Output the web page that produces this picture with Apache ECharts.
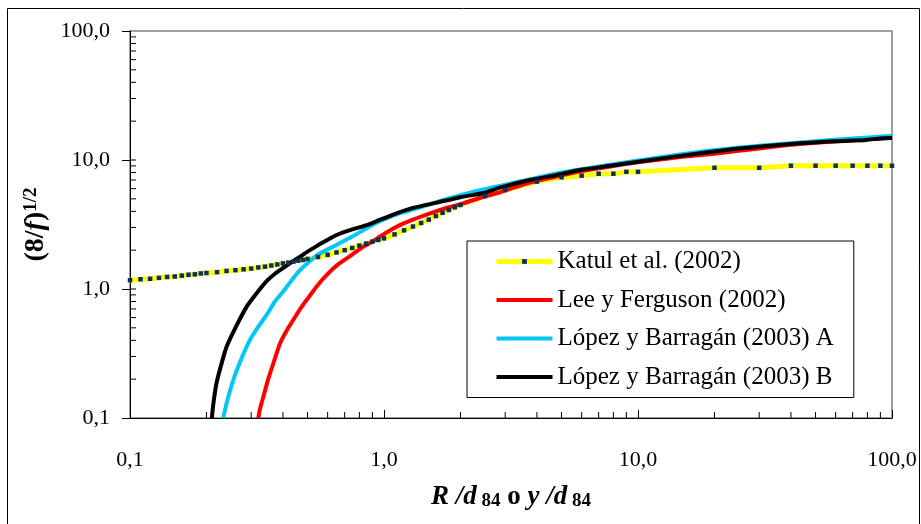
<!DOCTYPE html>
<html>
<head>
<meta charset="utf-8">
<style>
  html, body { margin: 0; padding: 0; background: #fff; }
  #main { width: 921px; height: 524px; }
</style>
<script src="https://cdn.jsdelivr.net/npm/echarts@6/dist/echarts.min.js"></script>
</head>
<body>
<div id="main"></div>
<script>
// datos (x = R/d84 o y/d84, y = (8/f)^1/2)
var katulX = [0.10, 0.11, 0.12, 0.13, 0.14, 0.15, 0.16, 0.17, 0.18, 0.19, 0.20, 0.22, 0.24, 0.26, 0.28, 0.30,
  0.32, 0.34, 0.36, 0.38, 0.40, 0.42, 0.44, 0.46, 0.48, 0.50, 0.55, 0.60, 0.65, 0.70, 0.75, 0.80, 0.85, 0.90,
  0.95, 1.0, 1.1, 1.2, 1.3, 1.4, 1.5, 1.6, 1.7, 1.8, 1.9, 2.0, 2.5, 3, 4, 5, 6, 7, 8, 9, 10,
  20, 30, 40, 50, 60, 70, 80, 90, 100]
var katulY = [1.17, 1.19, 1.20, 1.22, 1.24, 1.25, 1.27, 1.29, 1.30, 1.32, 1.33, 1.35, 1.38, 1.40, 1.42, 1.44,
  1.47, 1.49, 1.52, 1.55, 1.58, 1.60, 1.63, 1.66, 1.68, 1.71, 1.77, 1.84, 1.92, 2.00, 2.08, 2.17, 2.25, 2.33,
  2.40, 2.47, 2.65, 2.85, 3.05, 3.25, 3.45, 3.68, 3.90, 4.10, 4.30, 4.48, 5.25, 5.85, 6.8, 7.34, 7.56, 7.83, 7.83, 8.1, 8.1,
  8.7, 8.7, 9.03, 9.03, 9.03, 9.03, 9.03, 9.03, 9.03]

var leeX = [0.320, 0.325, 0.335, 0.35, 0.37, 0.39, 0.42, 0.45, 0.47, 0.50, 0.55, 0.61, 0.66, 0.73, 0.83, 0.91,
  0.96, 1.12, 1.3, 1.52, 1.8, 2.05, 2.4, 2.8, 3.2, 3.76, 4.5, 5, 6, 8, 10, 15, 20, 30, 40, 50, 70, 100]
var leeY = [0.100, 0.118, 0.146, 0.20, 0.28, 0.38, 0.50, 0.62, 0.71, 0.84, 1.08, 1.35, 1.55, 1.78, 2.13, 2.36,
  2.54, 3.04, 3.45, 3.86, 4.30, 4.61, 5.10, 5.55, 6.05, 6.67, 7.25, 7.6, 8.2, 9.0, 9.6, 10.6, 11.2, 12.3, 13.1, 13.6, 14.2, 14.9]

var lopezAX = [0.233, 0.240, 0.255, 0.275, 0.296, 0.32, 0.345, 0.372, 0.40, 0.43, 0.467, 0.50, 0.543, 0.63,
  0.75, 0.85, 0.98, 1.15, 1.35, 1.6, 1.81, 2.2, 2.86, 3.76, 5, 7, 10, 17.5, 30, 50, 75, 100]
var lopezAY = [0.100, 0.13, 0.197, 0.29, 0.40, 0.51, 0.63, 0.80, 0.95, 1.15, 1.40, 1.58, 1.82, 2.13,
  2.55, 2.95, 3.40, 3.85, 4.22, 4.70, 5.05, 5.60, 6.30, 7.10, 8.0, 8.9, 9.9, 11.6, 12.9, 14.0, 14.8, 15.4]

var lopezBX = [0.210, 0.213, 0.219, 0.23, 0.24, 0.26, 0.288, 0.306, 0.325, 0.345, 0.37, 0.40, 0.43, 0.467,
  0.50, 0.543, 0.576, 0.65, 0.75, 0.855, 0.94, 1.12, 1.3, 1.61, 2.0, 2.44, 2.86, 3.76, 5, 5.9, 8, 10,
  17.5, 25, 43, 60, 79, 90, 100]
var lopezBY = [0.100, 0.13, 0.186, 0.27, 0.357, 0.50, 0.73, 0.86, 1.00, 1.15, 1.30, 1.45, 1.60, 1.78,
  1.95, 2.15, 2.30, 2.62, 2.90, 3.13, 3.37, 3.86, 4.25, 4.67, 5.15, 5.52, 6.10, 7.0, 7.8, 8.37, 9.1, 9.7,
  11.3, 12.3, 13.5, 14.0, 14.3, 14.7, 14.8]

var seriesNames = ['Katul et al. (2002)', 'Lee y Ferguson (2002)', 'López y Barragán (2003) A', 'López y Barragán (2003) B']

// marcas secundarias de los ejes logaritmicos
var minorTicks = [0.2, 0.3, 0.4, 0.5, 0.6, 0.7, 0.8, 0.9, 2, 3, 4, 5, 6, 7, 8, 9, 20, 30, 40, 50, 60, 70, 80, 90]
var majorTicksY = [1, 10]

function pares(xs, ys) {
    return xs.map(function (x, i) { return [x, ys[i]] })
}

function fmt(v) {
    return (Math.round(v * 10) / 10).toFixed(1).replace('.', ',')
}

var serif = 'Liberation Serif'

var chart = echarts.init(document.getElementById('main'))

chart.setOption({
    animation: false,
    graphic: [{
        type: 'rect',
        shape: { x: 7.5, y: 8.5, width: 912, height: 540 },
        style: { fill: 'none', stroke: '#000', lineWidth: 1 },
        z: -1
    }],
    grid: {
        left: 130, right: 29, top: 31, bottom: 106,
        show: true,
        borderColor: '#808080',
        borderWidth: 1.5
    },
    legend: {
        data: [
            { name: seriesNames[0], lineStyle: { width: 5 } },
            { name: seriesNames[1], lineStyle: { width: 4 }, itemStyle: { opacity: 0 } },
            { name: seriesNames[2], lineStyle: { width: 4 }, itemStyle: { opacity: 0 } },
            { name: seriesNames[3], lineStyle: { width: 4 }, itemStyle: { opacity: 0 } }
        ],
        orient: 'vertical',
        left: 467,
        top: 241,
        padding: [8, 20, 8, 27],
        itemGap: 13.5,
        itemWidth: 56,
        itemHeight: 6,
        backgroundColor: '#fff',
        borderColor: '#000',
        borderWidth: 1,
        borderRadius: 0,
        textStyle: { fontFamily: serif, fontSize: 25, color: '#000' }
    },
    xAxis: {
        type: 'log',
        logBase: 10,
        min: 0.1,
        max: 100,
        name: '{b|R }{b|/d}{s| 84}{n| o }{b|y }{b|/d}{s| 84}',
        nameLocation: 'middle',
        nameGap: 66,
        nameTextStyle: {
            rich: {
                b: { fontFamily: serif, fontSize: 27, fontWeight: 'bold', fontStyle: 'italic', color: '#000' },
                n: { fontFamily: serif, fontSize: 27, fontWeight: 'bold', color: '#000' },
                s: { fontFamily: serif, fontSize: 19, fontWeight: 'bold', color: '#000', verticalAlign: 'bottom', padding: [8, 0, 0, 0] }
            }
        },
        axisLine: { lineStyle: { color: '#000', width: 1 } },
        axisTick: { inside: true, length: 8, lineStyle: { color: '#000' } },
        axisLabel: { margin: 31, fontFamily: serif, fontSize: 22, color: '#000', formatter: fmt },
        splitLine: { show: false }
    },
    yAxis: [{
        type: 'log',
        logBase: 10,
        min: 0.1,
        max: 100,
        name: '{a|(8/}{f|f}{a|)}{s|1/2}',
        nameLocation: 'middle',
        nameGap: 68,
        nameTextStyle: {
            rich: {
                a: { fontFamily: serif, fontSize: 28, fontWeight: 'bold', color: '#000' },
                f: { fontFamily: serif, fontSize: 28, fontWeight: 'bold', fontStyle: 'italic', color: '#000' },
                s: { fontFamily: serif, fontSize: 19, fontWeight: 'bold', color: '#000', verticalAlign: 'top', padding: [0, 0, 10, 0] }
            }
        },
        axisLine: { lineStyle: { color: '#000', width: 1 } },
        axisTick: { inside: false, length: 8, lineStyle: { color: '#000' } },
        axisLabel: { margin: 20, fontFamily: serif, fontSize: 22, color: '#000', formatter: fmt },
        splitLine: { show: false }
    }],
    series: [{
        name: seriesNames[0],
        type: 'line',
        data: pares(katulX, katulY),
        symbol: 'rect',
        symbolSize: 4.5,
        showAllSymbol: true,
        lineStyle: { color: '#ffff00', width: 5 },
        itemStyle: { color: '#0b2f5e' }
    }, {
        name: seriesNames[1],
        type: 'line',
        data: pares(leeX, leeY),
        symbol: 'none',
        smooth: 0.2,
        lineStyle: { color: '#ff0000', width: 4 },
        itemStyle: { color: '#ff0000' }
    }, {
        name: seriesNames[2],
        type: 'line',
        data: pares(lopezAX, lopezAY),
        symbol: 'none',
        smooth: 0.2,
        lineStyle: { color: '#00c8f8', width: 4 },
        itemStyle: { color: '#00c8f8' }
    }, {
        name: seriesNames[3],
        type: 'line',
        data: pares(lopezBX, lopezBY),
        symbol: 'none',
        smooth: 0.2,
        lineStyle: { color: '#000000', width: 4 },
        itemStyle: { color: '#000000' }
    }, {
        // marcas menores del eje x (hacia adentro)
        type: 'custom',
        silent: true,
        data: minorTicks.map(function (v) { return [v, 0.1] }),
        renderItem: function (params, api) {
            var p = api.coord([api.value(0), api.value(1)])
            return {
                type: 'line',
                shape: { x1: p[0], y1: p[1], x2: p[0], y2: p[1] - 6 },
                style: { stroke: '#000', lineWidth: 1 }
            }
        }
    }, {
        // marcas del eje y (hacia adentro)
        type: 'custom',
        silent: true,
        data: minorTicks.concat(majorTicksY).map(function (v) { return [0.1, v] }),
        renderItem: function (params, api) {
            var p = api.coord([api.value(0), api.value(1)])
            return {
                type: 'line',
                shape: { x1: p[0], y1: p[1], x2: p[0] + 6, y2: p[1] },
                style: { stroke: '#000', lineWidth: 1 }
            }
        }
    }]
})
</script>
</body>
</html>
